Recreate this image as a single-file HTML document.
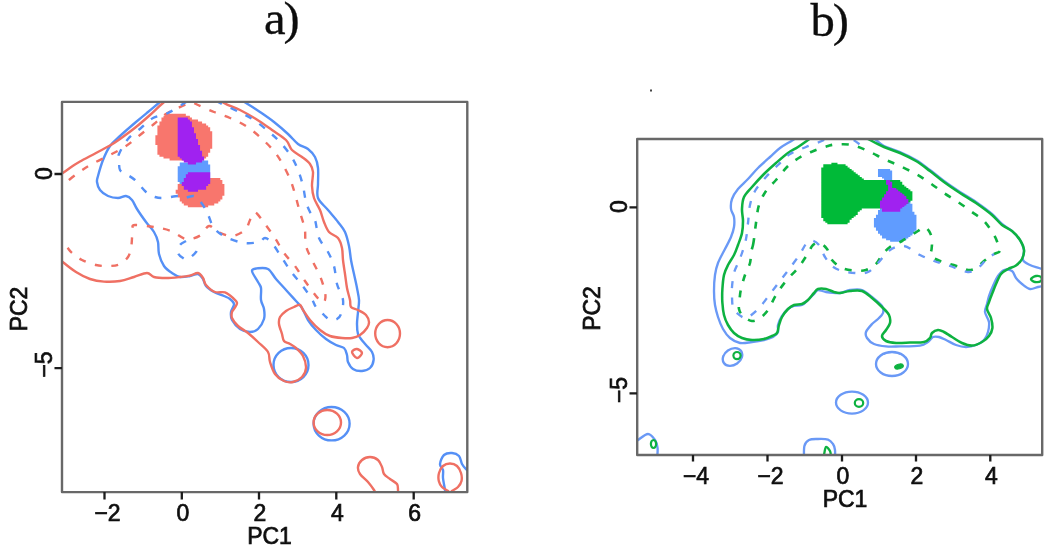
<!DOCTYPE html>
<html lang="en">
<head>
<meta charset="utf-8">
<title>PCA density contours</title>
<style>
html,body{margin:0;padding:0;background:#fff;}
body{width:1050px;height:551px;overflow:hidden;font-family:"Liberation Sans",Arial,sans-serif;}
svg{display:block;}
</style>
</head>
<body>
<svg width="1050" height="551" viewBox="0 0 1050 551">
<defs>
<clipPath id="ca"><rect x="62" y="102" width="406" height="390"/></clipPath>
<clipPath id="cb"><rect x="637" y="139" width="405" height="316"/></clipPath>
<filter id="soft" x="-2%" y="-2%" width="104%" height="104%"><feGaussianBlur stdDeviation="0.75"/></filter>
</defs>
<rect width="1050" height="551" fill="#ffffff"/>
<g filter="url(#soft)">
<g clip-path="url(#ca)" stroke-width="2.4" stroke-linecap="butt" stroke-linejoin="round">
<path d="M165.53,113.70H185.83V115.70H165.53ZM163.50,115.65H189.89V117.65H163.50ZM161.47,117.60H191.92V119.60H161.47ZM161.47,119.55H198.01V121.55H161.47ZM159.44,121.50H202.07V123.50H159.44ZM159.44,123.45H206.13V125.45H159.44ZM157.41,125.40H208.16V127.40H157.41ZM157.41,127.35H210.19V129.35H157.41ZM157.41,129.30H210.19V131.30H157.41ZM157.41,131.25H212.22V133.25H157.41ZM157.41,133.20H212.22V135.20H157.41ZM155.38,135.15H212.22V137.15H155.38ZM155.38,137.10H212.22V139.10H155.38ZM155.38,139.05H212.22V141.05H155.38ZM155.38,141.00H212.22V143.00H155.38ZM155.38,142.95H212.22V144.95H155.38ZM157.41,144.90H212.22V146.90H157.41ZM157.41,146.85H212.22V148.85H157.41ZM157.41,148.80H210.19V150.80H157.41ZM157.41,150.75H210.19V152.75H157.41ZM157.41,152.70H208.16V154.70H157.41ZM159.44,154.65H208.16V156.65H159.44ZM163.50,156.60H206.13V158.60H163.50ZM169.59,158.55H204.10V160.55H169.59Z" fill="#F8766D" stroke="none"/>
<path d="M189.89,178.05H220.34V180.05H189.89ZM181.77,180.00H222.37V182.00H181.77ZM179.74,181.95H222.37V183.95H179.74ZM177.71,183.90H224.40V185.90H177.71ZM177.71,185.85H224.40V187.85H177.71ZM177.71,187.80H224.40V189.80H177.71ZM175.68,189.75H224.40V191.75H175.68ZM175.68,191.70H224.40V193.70H175.68ZM177.71,193.65H224.40V195.65H177.71ZM177.71,195.60H222.37V197.60H177.71ZM179.74,197.55H222.37V199.55H179.74ZM179.74,199.50H220.34V201.50H179.74ZM181.77,201.45H218.31V203.45H181.77ZM183.80,203.40H214.25V205.40H183.80ZM187.86,205.35H208.16V207.35H187.86Z" fill="#F8766D" stroke="none"/>
<path d="M193.95,160.50H208.16V162.50H193.95ZM179.74,162.45H208.16V164.45H179.74ZM179.74,164.40H210.19V166.40H179.74ZM177.71,166.35H210.19V168.35H177.71ZM177.71,168.30H210.19V170.30H177.71ZM177.71,170.25H210.19V172.25H177.71ZM177.71,172.20H210.19V174.20H177.71ZM177.71,174.15H210.19V176.15H177.71ZM177.71,176.10H210.19V178.10H177.71ZM177.71,178.05H210.19V180.05H177.71ZM177.71,180.00H210.19V182.00H177.71ZM179.74,181.95H183.80V183.95H179.74Z" fill="#619CFF" stroke="none"/>
<path d="M177.71,117.60H187.86V119.60H177.71ZM177.71,119.55H189.89V121.55H177.71ZM177.71,121.50H191.92V123.50H177.71ZM177.71,123.45H191.92V125.45H177.71ZM177.71,125.40H191.92V127.40H177.71ZM177.71,127.35H193.95V129.35H177.71ZM177.71,129.30H193.95V131.30H177.71ZM177.71,131.25H193.95V133.25H177.71ZM177.71,133.20H195.98V135.20H177.71ZM177.71,135.15H195.98V137.15H177.71ZM177.71,137.10H195.98V139.10H177.71ZM177.71,139.05H198.01V141.05H177.71ZM177.71,141.00H198.01V143.00H177.71ZM177.71,142.95H198.01V144.95H177.71ZM177.71,144.90H200.04V146.90H177.71ZM177.71,146.85H200.04V148.85H177.71ZM177.71,148.80H200.04V150.80H177.71ZM177.71,150.75H202.07V152.75H177.71ZM177.71,152.70H202.07V154.70H177.71ZM177.71,154.65H202.07V156.65H177.71ZM179.74,156.60H204.10V158.60H179.74ZM181.77,158.55H204.10V160.55H181.77ZM183.80,160.50H202.07V162.50H183.80ZM187.86,162.45H195.98V164.45H187.86Z" fill="#A020F0" stroke="none"/>
<path d="M187.86,172.20H210.19V174.20H187.86ZM185.83,174.15H210.19V176.15H185.83ZM185.83,176.10H210.19V178.10H185.83ZM183.80,178.05H210.19V180.05H183.80ZM183.80,180.00H210.19V182.00H183.80ZM181.77,181.95H210.19V183.95H181.77ZM181.77,183.90H208.16V185.90H181.77ZM183.80,185.85H206.13V187.85H183.80ZM183.80,187.80H206.13V189.80H183.80ZM187.86,189.75H198.01V191.75H187.86Z" fill="#A020F0" stroke="none"/>
<path d="M170.0,94.0 C168.3,95.3 163.7,99.0 160.0,102.0 C156.3,105.0 152.0,108.7 148.0,112.0 C144.0,115.3 140.7,118.0 136.0,122.0 C131.3,126.0 124.3,132.0 120.0,136.0 C115.7,140.0 112.8,142.0 110.0,146.0 C107.2,150.0 105.0,155.0 103.0,160.0 C101.0,165.0 99.0,172.3 98.0,176.0 C97.0,179.7 96.7,179.7 97.0,182.0 C97.3,184.3 98.2,187.7 100.0,190.0 C101.8,192.3 105.0,194.7 108.0,196.0 C111.0,197.3 115.0,198.0 118.0,198.0 C121.0,198.0 123.7,195.7 126.0,196.0 C128.3,196.3 130.2,197.8 132.0,200.0 C133.8,202.2 134.7,205.3 137.0,209.0 C139.3,212.7 143.2,218.2 146.0,222.0 C148.8,225.8 152.0,228.7 154.0,232.0 C156.0,235.3 157.2,238.3 158.0,242.0 C158.8,245.7 158.0,250.0 159.0,254.0 C160.0,258.0 161.8,262.8 164.0,266.0 C166.2,269.2 169.3,271.2 172.0,273.0 C174.7,274.8 177.0,276.5 180.0,277.0 C183.0,277.5 187.0,276.5 190.0,276.0 C193.0,275.5 195.8,273.5 198.0,274.0 C200.2,274.5 201.7,277.0 203.0,279.0 C204.3,281.0 204.2,283.8 206.0,286.0 C207.8,288.2 211.0,290.3 214.0,292.0 C217.0,293.7 221.3,294.8 224.0,296.0 C226.7,297.2 228.3,297.7 230.0,299.0 C231.7,300.3 233.8,301.8 234.0,304.0 C234.2,306.2 231.3,309.3 231.0,312.0 C230.7,314.7 230.5,317.2 232.0,320.0 C233.5,322.8 237.0,327.0 240.0,329.0 C243.0,331.0 247.0,332.0 250.0,332.0 C253.0,332.0 255.7,331.2 258.0,329.0 C260.3,326.8 263.0,322.3 264.0,319.0 C265.0,315.7 264.5,312.2 264.0,309.0 C263.5,305.8 261.5,303.5 261.0,300.0 C260.5,296.5 261.5,291.0 261.0,288.0 C260.5,285.0 259.5,284.8 258.0,282.0 C256.5,279.2 252.2,273.3 252.0,271.0 C251.8,268.7 254.3,268.7 257.0,268.4 C259.7,268.1 264.8,267.2 268.0,269.0 C271.2,270.8 273.0,275.5 276.0,279.0 C279.0,282.5 282.7,286.3 286.0,290.0 C289.3,293.7 293.3,298.0 296.0,301.0 C298.7,304.0 300.0,304.8 302.0,308.0 C304.0,311.2 305.7,316.3 308.0,320.0 C310.3,323.7 313.0,326.8 316.0,330.0 C319.0,333.2 322.7,336.5 326.0,339.0 C329.3,341.5 333.0,343.5 336.0,345.0 C339.0,346.5 342.2,346.3 344.0,348.0 C345.8,349.7 346.3,352.7 347.0,355.0 C347.7,357.3 347.0,359.7 348.0,362.0 C349.0,364.3 350.7,367.5 353.0,369.0 C355.3,370.5 359.2,371.2 362.0,371.0 C364.8,370.8 368.1,369.8 370.0,368.0 C371.9,366.2 373.3,362.7 373.6,360.0 C373.9,357.3 373.3,354.5 372.0,352.0 C370.7,349.5 367.8,347.2 366.0,345.0 C364.2,342.8 362.3,340.8 361.0,339.0 C359.7,337.2 358.7,336.5 358.0,334.0 C357.3,331.5 357.0,327.7 357.0,324.0 C357.0,320.3 357.7,316.0 358.0,312.0 C358.3,308.0 359.2,304.0 359.0,300.0 C358.8,296.0 357.8,292.3 357.0,288.0 C356.2,283.7 355.0,278.7 354.0,274.0 C353.0,269.3 351.8,264.7 351.0,260.0 C350.2,255.3 350.0,250.7 349.0,246.0 C348.0,241.3 346.8,236.0 345.0,232.0 C343.2,228.0 340.8,225.7 338.0,222.0 C335.2,218.3 331.3,214.0 328.0,210.0 C324.7,206.0 319.7,202.3 318.0,198.0 C316.3,193.7 318.0,189.0 318.0,184.0 C318.0,179.0 318.5,172.5 318.0,168.0 C317.5,163.5 316.7,160.2 315.0,157.0 C313.3,153.8 310.8,151.2 308.0,149.0 C305.2,146.8 301.3,146.5 298.0,144.0 C294.7,141.5 292.0,137.7 288.0,134.0 C284.0,130.3 278.7,125.7 274.0,122.0 C269.3,118.3 264.7,115.2 260.0,112.0 C255.3,108.8 250.7,105.8 246.0,103.0 C241.3,100.2 234.3,96.3 232.0,95.0" fill="none" stroke="#5590F6"/>
<ellipse cx="291" cy="365" rx="17.5" ry="17" fill="none" stroke="#5590F6" />
<ellipse cx="331.6" cy="423.7" rx="18" ry="16.7" fill="none" stroke="#5590F6" />
<path d="M446.0,498.0 C445.8,496.7 445.5,493.3 445.0,490.0 C444.5,486.7 443.3,481.3 443.0,478.0 C442.7,474.7 443.5,472.3 443.0,470.0 C442.5,467.7 439.8,466.5 440.0,464.0 C440.2,461.5 442.0,456.8 444.0,455.0 C446.0,453.2 449.5,452.8 452.0,453.0 C454.5,453.2 457.3,454.2 459.0,456.0 C460.7,457.8 460.8,461.8 462.0,464.0 C463.2,466.2 464.3,467.5 466.0,469.0 C467.7,470.5 471.0,472.3 472.0,473.0" fill="none" stroke="#5590F6"/>
<path d="M56.0,177.0 C57.0,176.4 59.3,175.2 62.0,173.5 C64.7,171.8 69.0,168.5 72.0,166.5 C75.0,164.5 76.0,163.8 80.0,161.5 C84.0,159.2 91.0,155.7 96.0,153.0 C101.0,150.3 106.0,147.8 110.0,145.5 C114.0,143.2 115.7,142.1 120.0,139.0 C124.3,135.9 131.0,131.0 136.0,127.0 C141.0,123.0 145.5,119.0 150.0,115.0 C154.5,111.0 158.3,106.8 163.0,103.0 C167.7,99.2 172.8,94.8 178.0,92.0 C183.2,89.2 188.7,86.0 194.0,86.0 C199.3,86.0 205.0,89.2 210.0,92.0 C215.0,94.8 219.0,100.0 224.0,103.0 C229.0,106.0 234.7,107.3 240.0,110.0 C245.3,112.7 250.7,115.7 256.0,119.0 C261.3,122.3 267.0,126.5 272.0,130.0 C277.0,133.5 282.7,136.7 286.0,140.0 C289.3,143.3 289.3,147.2 292.0,150.0 C294.7,152.8 299.0,154.7 302.0,157.0 C305.0,159.3 308.2,161.5 310.0,164.0 C311.8,166.5 312.7,168.3 313.0,172.0 C313.3,175.7 311.8,181.7 312.0,186.0 C312.2,190.3 312.7,194.0 314.0,198.0 C315.3,202.0 318.3,206.0 320.0,210.0 C321.7,214.0 322.5,218.3 324.0,222.0 C325.5,225.7 326.7,229.3 329.0,232.0 C331.3,234.7 335.8,235.3 338.0,238.0 C340.2,240.7 341.2,244.3 342.0,248.0 C342.8,251.7 342.5,255.7 343.0,260.0 C343.5,264.3 344.3,269.3 345.0,274.0 C345.7,278.7 346.2,283.7 347.0,288.0 C347.8,292.3 349.3,296.8 350.0,300.0 C350.7,303.2 349.7,305.3 351.0,307.0 C352.3,308.7 355.5,308.7 358.0,310.0 C360.5,311.3 364.2,313.0 366.0,315.0 C367.8,317.0 368.8,319.8 369.0,322.0 C369.2,324.2 368.5,325.8 367.0,328.0 C365.5,330.2 362.5,333.3 360.0,335.0 C357.5,336.7 355.0,337.5 352.0,338.0 C349.0,338.5 345.7,338.3 342.0,338.0 C338.3,337.7 333.7,337.3 330.0,336.0 C326.3,334.7 323.3,332.7 320.0,330.0 C316.7,327.3 312.8,323.3 310.0,320.0 C307.2,316.7 304.7,312.5 303.0,310.0 C301.3,307.5 301.5,305.5 300.0,305.0 C298.5,304.5 296.3,306.0 294.0,307.0 C291.7,308.0 288.3,309.3 286.0,311.0 C283.7,312.7 281.2,314.8 280.0,317.0 C278.8,319.2 278.7,321.2 279.0,324.0 C279.3,326.8 281.2,331.2 282.0,334.0 C282.8,336.8 282.7,339.3 284.0,341.0 C285.3,342.7 288.0,342.8 290.0,344.0 C292.0,345.2 293.8,346.0 296.0,348.0 C298.2,350.0 301.3,352.7 303.0,356.0 C304.7,359.3 306.2,364.5 306.0,368.0 C305.8,371.5 304.2,374.7 302.0,377.0 C299.8,379.3 296.0,381.3 293.0,382.0 C290.0,382.7 287.0,382.3 284.0,381.0 C281.0,379.7 277.3,377.2 275.0,374.0 C272.7,370.8 271.2,365.7 270.0,362.0 C268.8,358.3 270.0,355.3 268.0,352.0 C266.0,348.7 261.3,345.2 258.0,342.0 C254.7,338.8 251.3,335.7 248.0,333.0 C244.7,330.3 240.7,328.5 238.0,326.0 C235.3,323.5 233.0,320.3 232.0,318.0 C231.0,315.7 231.7,313.5 232.0,312.0 C232.3,310.5 233.2,310.5 234.0,309.0 C234.8,307.5 237.2,304.8 237.0,303.0 C236.8,301.2 235.0,299.8 233.0,298.0 C231.0,296.2 228.0,293.4 225.0,292.4 C222.0,291.4 218.2,293.2 215.0,292.0 C211.8,290.8 208.0,287.3 206.0,285.0 C204.0,282.7 204.3,280.0 203.0,278.0 C201.7,276.0 200.2,273.4 198.0,273.0 C195.8,272.6 193.0,274.9 190.0,275.6 C187.0,276.3 184.0,276.6 180.0,277.0 C176.0,277.4 170.3,278.0 166.0,278.0 C161.7,278.0 157.2,277.8 154.0,277.0 C150.8,276.2 150.3,273.0 147.0,273.0 C143.7,273.0 138.5,275.7 134.0,277.0 C129.5,278.3 125.0,280.2 120.0,281.0 C115.0,281.8 109.0,281.9 104.0,281.6 C99.0,281.3 94.7,280.6 90.0,279.0 C85.3,277.4 80.3,274.7 76.0,272.0 C71.7,269.3 67.3,265.7 64.0,263.0 C60.7,260.3 57.3,257.2 56.0,256.0" fill="none" stroke="#EF6F63"/>
<ellipse cx="387.6" cy="333.6" rx="12.4" ry="13.6" fill="none" stroke="#EF6F63" />
<path d="M352.0,352.0 C352.0,350.5 355.3,348.8 357.0,349.0 C358.7,349.2 362.0,351.5 362.0,353.0 C362.0,354.5 358.7,358.2 357.0,358.0 C355.3,357.8 352.0,353.5 352.0,352.0Z" fill="none" stroke="#EF6F63"/>
<ellipse cx="327.3" cy="422.5" rx="13.7" ry="12.5" fill="none" stroke="#EF6F63" />
<path d="M378.0,498.0 C377.3,496.7 375.7,492.7 374.0,490.0 C372.3,487.3 370.3,484.7 368.0,482.0 C365.7,479.3 361.7,476.5 360.0,474.0 C358.3,471.5 357.7,469.3 358.0,467.0 C358.3,464.7 360.0,461.7 362.0,460.0 C364.0,458.3 367.3,457.0 370.0,457.0 C372.7,457.0 376.0,458.3 378.0,460.0 C380.0,461.7 381.0,464.7 382.0,467.0 C383.0,469.3 382.7,472.0 384.0,474.0 C385.3,476.0 387.8,477.3 390.0,479.0 C392.2,480.7 395.7,482.2 397.0,484.0 C398.3,485.8 397.8,487.7 398.0,490.0 C398.2,492.3 398.0,496.7 398.0,498.0" fill="none" stroke="#EF6F63"/>
<path d="M450.0,463.5 C452.3,463.5 455.2,464.4 457.0,466.0 C458.8,467.6 460.2,470.5 461.0,473.0 C461.8,475.5 462.0,478.7 461.5,481.0 C461.0,483.3 459.6,485.3 458.0,487.0 C456.4,488.7 453.3,489.8 452.0,491.0 C450.7,492.2 450.7,494.0 450.0,494.0 C449.3,494.0 449.3,492.2 448.0,491.0 C446.7,489.8 443.5,488.7 442.0,487.0 C440.5,485.3 439.3,483.3 438.8,481.0 C438.3,478.7 438.3,475.5 439.0,473.0 C439.7,470.5 441.2,467.6 443.0,466.0 C444.8,464.4 447.7,463.5 450.0,463.5Z" fill="none" stroke="#EF6F63"/>
<path d="M56.0,190.0 C57.3,189.0 60.3,186.8 64.0,184.0 C67.7,181.2 73.3,176.3 78.0,173.0 C82.7,169.7 86.7,167.0 92.0,164.0 C97.3,161.0 104.3,158.0 110.0,155.0 C115.7,152.0 121.0,149.3 126.0,146.0 C131.0,142.7 135.3,138.7 140.0,135.0 C144.7,131.3 149.7,127.5 154.0,124.0 C158.3,120.5 162.0,116.7 166.0,114.0 C170.0,111.3 174.3,109.8 178.0,108.0 C181.7,106.2 185.5,104.4 188.0,103.5 C190.5,102.6 191.3,102.5 193.0,102.8 C194.7,103.0 194.5,103.5 198.0,105.0 C201.5,106.5 208.7,109.8 214.0,112.0 C219.3,114.2 224.7,115.7 230.0,118.0 C235.3,120.3 241.0,122.8 246.0,126.0 C251.0,129.2 255.5,133.0 260.0,137.0 C264.5,141.0 269.3,145.7 273.0,150.0 C276.7,154.3 279.2,158.2 282.0,163.0 C284.8,167.8 287.8,173.8 290.0,179.0 C292.2,184.2 293.5,189.0 295.0,194.0 C296.5,199.0 297.7,204.3 299.0,209.0 C300.3,213.7 302.0,218.5 303.0,222.0 C304.0,225.5 304.5,226.0 305.0,230.0 C305.5,234.0 304.8,241.0 306.0,246.0 C307.2,251.0 309.7,255.0 312.0,260.0 C314.3,265.0 317.8,270.7 320.0,276.0 C322.2,281.3 324.2,288.0 325.0,292.0 C325.8,296.0 325.5,298.2 325.0,300.0 C324.5,301.8 323.0,303.2 322.0,303.0 C321.0,302.8 320.0,300.2 319.0,299.0 C318.0,297.8 318.3,299.0 316.0,296.0 C313.7,293.0 308.5,286.0 305.0,281.0 C301.5,276.0 298.5,270.7 295.0,266.0 C291.5,261.3 287.3,257.7 284.0,253.0 C280.7,248.3 278.2,242.8 275.0,238.0 C271.8,233.2 268.0,228.1 265.0,224.0 C262.0,219.9 258.8,215.4 257.0,213.6 C255.2,211.8 255.2,211.9 254.0,213.0 C252.8,214.1 251.5,217.2 250.0,220.0 C248.5,222.8 248.0,227.3 245.0,230.0 C242.0,232.7 236.5,235.7 232.0,236.0 C227.5,236.3 221.8,233.7 218.0,232.0 C214.2,230.3 212.0,225.4 209.0,226.0 C206.0,226.6 203.8,233.4 200.0,235.6 C196.2,237.8 190.8,239.8 186.0,239.0 C181.2,238.2 176.3,233.0 171.0,231.0 C165.7,229.0 160.0,228.0 154.0,227.0 C148.0,226.0 138.6,224.8 135.0,225.0 C131.4,225.2 132.9,225.8 132.4,228.0 C131.9,230.2 132.2,234.7 132.0,238.0 C131.8,241.3 131.7,244.8 131.0,248.0 C130.3,251.2 129.8,254.3 128.0,257.0 C126.2,259.7 123.0,262.5 120.0,264.0 C117.0,265.5 114.0,265.8 110.0,266.0 C106.0,266.2 100.7,266.0 96.0,265.0 C91.3,264.0 86.0,262.0 82.0,260.0 C78.0,258.0 74.5,255.2 72.0,253.0 C69.5,250.8 69.3,249.8 67.0,247.0 C64.7,244.2 59.5,237.8 58.0,236.0" fill="none" stroke="#EF6F63" stroke-dasharray="7 9.5"/>
<path d="M200.0,92.0 C197.7,93.7 191.3,98.5 186.0,102.0 C180.7,105.5 173.5,110.3 168.0,113.0 C162.5,115.7 157.5,115.5 153.0,118.0 C148.5,120.5 145.2,124.5 141.0,128.0 C136.8,131.5 131.7,134.7 128.0,139.0 C124.3,143.3 120.5,150.5 119.0,154.0 C117.5,157.5 118.8,157.3 119.0,160.0 C119.2,162.7 118.8,167.7 120.0,170.0 C121.2,172.3 123.5,172.3 126.0,174.0 C128.5,175.7 131.7,177.0 135.0,180.0 C138.3,183.0 142.7,189.2 146.0,192.0 C149.3,194.8 152.0,196.0 155.0,197.0 C158.0,198.0 160.2,198.2 164.0,198.0 C167.8,197.8 174.7,196.0 178.0,196.0 C181.3,196.0 181.3,198.0 184.0,198.0 C186.7,198.0 191.3,195.5 194.0,196.0 C196.7,196.5 197.8,198.3 200.0,201.0 C202.2,203.7 204.7,207.5 207.0,212.0 C209.3,216.5 210.8,223.8 214.0,228.0 C217.2,232.2 221.0,234.5 226.0,237.0 C231.0,239.5 238.5,242.2 244.0,243.0 C249.5,243.8 255.5,242.8 259.0,242.0 C262.5,241.2 262.8,237.8 265.0,238.0 C267.2,238.2 269.2,239.7 272.0,243.0 C274.8,246.3 278.7,253.1 282.0,258.0 C285.3,262.9 288.2,267.8 291.6,272.4 C295.0,277.0 299.0,281.1 302.4,285.6 C305.8,290.1 309.7,295.8 312.0,299.4 C314.3,303.0 314.0,304.4 316.0,307.0 C318.0,309.6 321.7,312.8 324.0,315.0 C326.3,317.2 327.8,319.3 330.0,320.0 C332.2,320.7 335.2,320.0 337.0,319.0 C338.8,318.0 340.0,317.2 341.0,314.0 C342.0,310.8 343.7,305.0 343.0,300.0 C342.3,295.0 338.5,289.7 337.0,284.0 C335.5,278.3 335.5,271.3 334.0,266.0 C332.5,260.7 330.5,256.7 328.0,252.0 C325.5,247.3 321.2,243.3 319.0,238.0 C316.8,232.7 316.5,224.3 315.0,220.0 C313.5,215.7 311.5,215.0 310.0,212.0 C308.5,209.0 307.2,206.3 306.0,202.0 C304.8,197.7 304.3,191.3 303.0,186.0 C301.7,180.7 300.0,175.0 298.0,170.0 C296.0,165.0 294.0,160.7 291.0,156.0 C288.0,151.3 283.8,146.2 280.0,142.0 C276.2,137.8 272.3,134.7 268.0,131.0 C263.7,127.3 258.8,123.2 254.0,120.0 C249.2,116.8 244.7,114.8 239.0,112.0 C233.3,109.2 225.7,105.8 220.0,103.0 C214.3,100.2 207.5,96.3 205.0,95.0" fill="none" stroke="#5590F6" stroke-dasharray="7 9.5"/>
<path d="M186.0,241.0 C185.0,241.7 181.3,243.0 180.0,245.0 C178.7,247.0 177.5,250.8 178.0,253.0 C178.5,255.2 181.3,257.0 183.0,258.0 C184.7,259.0 185.8,260.0 188.0,259.0 C190.2,258.0 194.3,254.3 196.0,252.0 C197.7,249.7 197.7,246.2 198.0,245.0" fill="none" stroke="#5590F6" stroke-dasharray="7 9.5"/>
</g>
<g clip-path="url(#cb)" stroke-width="2.35" stroke-linecap="butt" stroke-linejoin="round">
<path d="M877.98,169.02H890.12V170.65H877.98ZM877.98,170.60H892.15V172.23H877.98ZM877.98,172.18H892.15V173.81H877.98ZM877.98,173.76H892.15V175.39H877.98ZM877.98,175.34H892.15V176.97H877.98ZM882.02,176.92H892.15V178.55H882.02ZM884.05,178.50H892.15V180.13H884.05ZM884.05,180.08H892.15V181.71H884.05Z" fill="#619CFF" stroke="none"/>
<path d="M906.33,200.62H910.38V202.25H906.33ZM904.30,202.20H910.38V203.83H904.30ZM900.25,203.78H912.40V205.41H900.25ZM894.17,205.36H912.40V206.99H894.17ZM886.08,206.94H912.40V208.57H886.08ZM880.00,208.52H912.40V210.15H880.00ZM877.98,210.10H912.40V211.73H877.98ZM877.98,211.68H914.42V213.31H877.98ZM877.98,213.26H914.42V214.89H877.98ZM875.95,214.84H916.45V216.47H875.95ZM875.95,216.42H916.45V218.05H875.95ZM873.92,218.00H916.45V219.63H873.92ZM873.92,219.58H916.45V221.21H873.92ZM873.92,221.16H916.45V222.79H873.92ZM873.92,222.74H916.45V224.37H873.92ZM873.92,224.32H916.45V225.95H873.92ZM873.92,225.90H916.45V227.53H873.92ZM875.95,227.48H916.45V229.11H875.95ZM875.95,229.06H916.45V230.69H875.95ZM877.98,230.64H914.42V232.27H877.98ZM877.98,232.22H914.42V233.85H877.98ZM880.00,233.80H912.40V235.43H880.00ZM882.02,235.38H910.38V237.01H882.02ZM882.02,236.96H908.35V238.59H882.02ZM886.08,238.54H906.33V240.17H886.08ZM890.12,240.12H902.27V241.75H890.12Z" fill="#619CFF" stroke="none"/>
<path d="M831.40,162.70H837.48V164.33H831.40ZM823.30,164.28H845.58V165.91H823.30ZM823.30,165.86H847.60V167.49H823.30ZM821.27,167.44H849.62V169.07H821.27ZM821.27,169.02H851.65V170.65H821.27ZM821.27,170.60H853.67V172.23H821.27ZM821.27,172.18H855.70V173.81H821.27ZM821.27,173.76H857.73V175.39H821.27ZM821.27,175.34H859.75V176.97H821.27ZM821.27,176.92H861.77V178.55H821.27ZM821.27,178.50H863.80V180.13H821.27ZM821.27,180.08H900.25V181.71H821.27ZM821.27,181.66H902.27V183.29H821.27ZM821.27,183.24H902.27V184.87H821.27ZM821.27,184.82H904.30V186.45H821.27ZM821.27,186.40H906.33V188.03H821.27ZM821.27,187.98H908.35V189.61H821.27ZM821.27,189.56H910.38V191.19H821.27ZM821.27,191.14H912.40V192.77H821.27ZM821.27,192.72H912.40V194.35H821.27ZM821.27,194.30H912.40V195.93H821.27ZM821.27,195.88H912.40V197.51H821.27ZM821.27,197.46H912.40V199.09H821.27ZM821.27,199.04H912.40V200.67H821.27ZM821.27,200.62H910.38V202.25H821.27ZM821.27,202.20H908.35V203.83H821.27ZM821.27,203.78H904.30V205.41H821.27ZM821.27,205.36H892.15V206.99H821.27ZM821.27,206.94H882.02V208.57H821.27ZM821.27,208.52H861.77V210.15H821.27ZM821.27,210.10H859.75V211.73H821.27ZM821.27,211.68H857.73V213.31H821.27ZM821.27,213.26H857.73V214.89H821.27ZM821.27,214.84H855.70V216.47H821.27ZM821.27,216.42H853.67V218.05H821.27ZM823.30,218.00H851.65V219.63H823.30ZM823.30,219.58H849.62V221.21H823.30ZM825.33,221.16H849.62V222.79H825.33ZM827.35,222.74H847.60V224.37H827.35Z" fill="#00BA38" stroke="none"/>
<path d="M886.08,180.08H890.12V181.71H886.08ZM886.08,181.66H892.15V183.29H886.08ZM886.08,183.24H892.15V184.87H886.08ZM888.10,184.82H892.15V186.45H888.10ZM888.10,186.40H892.15V188.03H888.10ZM888.10,187.98H896.20V189.61H888.10ZM888.10,189.56H898.22V191.19H888.10ZM886.08,191.14H900.25V192.77H886.08ZM886.08,192.72H902.27V194.35H886.08ZM884.05,194.30H904.30V195.93H884.05ZM884.05,195.88H906.33V197.51H884.05ZM882.02,197.46H906.33V199.09H882.02ZM882.02,199.04H908.35V200.67H882.02ZM880.00,200.62H908.35V202.25H880.00ZM880.00,202.20H908.35V203.83H880.00ZM880.00,203.78H906.33V205.41H880.00ZM880.00,205.36H904.30V206.99H880.00ZM880.00,206.94H902.27V208.57H880.00ZM882.02,208.52H900.25V210.15H882.02ZM882.02,210.10H900.25V211.73H882.02Z" fill="#A020F0" stroke="none"/>
<path d="M808.0,130.0 C805.5,131.7 797.7,137.0 793.0,140.0 C788.3,143.0 783.8,145.2 780.0,148.0 C776.2,150.8 773.7,153.7 770.0,157.0 C766.3,160.3 761.7,164.3 758.0,168.0 C754.3,171.7 751.3,175.5 748.0,179.0 C744.7,182.5 740.7,185.7 738.0,189.0 C735.3,192.3 733.2,195.7 732.0,199.0 C730.8,202.3 730.7,206.0 731.0,209.0 C731.3,212.0 733.5,214.0 734.0,217.0 C734.5,220.0 734.5,223.7 734.0,227.0 C733.5,230.3 732.5,233.3 731.0,237.0 C729.5,240.7 727.2,244.7 725.0,249.0 C722.8,253.3 719.7,258.7 718.0,263.0 C716.3,267.3 715.7,270.3 715.0,275.0 C714.3,279.7 714.0,286.0 714.0,291.0 C714.0,296.0 714.3,300.7 715.0,305.0 C715.7,309.3 716.7,313.0 718.0,317.0 C719.3,321.0 721.0,325.5 723.0,329.0 C725.0,332.5 727.2,335.7 730.0,338.0 C732.8,340.3 736.3,342.3 740.0,343.0 C743.7,343.7 748.0,342.5 752.0,342.0 C756.0,341.5 760.5,340.8 764.0,340.0 C767.5,339.2 770.7,338.3 773.0,337.0 C775.3,335.7 777.2,334.0 778.0,332.0 C778.8,330.0 777.3,327.7 778.0,325.0 C778.7,322.3 780.3,318.7 782.0,316.0 C783.7,313.3 786.0,310.7 788.0,309.0 C790.0,307.3 791.7,306.7 794.0,306.0 C796.3,305.3 799.7,306.0 802.0,305.0 C804.3,304.0 806.0,301.8 808.0,300.0 C810.0,298.2 812.3,295.7 814.0,294.0 C815.7,292.3 816.0,290.3 818.0,290.0 C820.0,289.7 822.3,291.5 826.0,292.0 C829.7,292.5 836.0,293.3 840.0,293.0 C844.0,292.7 846.3,290.5 850.0,290.0 C853.7,289.5 858.3,288.8 862.0,290.0 C865.7,291.2 868.7,294.3 872.0,297.0 C875.3,299.7 880.2,303.3 882.0,306.0 C883.8,308.7 883.7,310.8 883.0,313.0 C882.3,315.2 879.8,317.2 878.0,319.0 C876.2,320.8 874.0,321.8 872.0,324.0 C870.0,326.2 866.8,329.7 866.0,332.0 C865.2,334.3 865.7,336.0 867.0,338.0 C868.3,340.0 870.8,342.6 874.0,344.0 C877.2,345.4 881.7,346.0 886.0,346.4 C890.3,346.8 894.3,346.5 900.0,346.4 C905.7,346.3 915.3,346.3 920.0,345.6 C924.7,344.9 925.8,343.4 928.0,342.0 C930.2,340.6 931.2,337.8 933.0,337.0 C934.8,336.2 936.8,336.5 939.0,337.0 C941.2,337.5 943.2,338.7 946.0,340.0 C948.8,341.3 952.7,343.8 956.0,345.0 C959.3,346.2 962.7,347.0 966.0,347.0 C969.3,347.0 973.0,346.2 976.0,345.0 C979.0,343.8 982.0,342.2 984.0,340.0 C986.0,337.8 987.2,335.0 988.0,332.0 C988.8,329.0 989.5,325.3 989.0,322.0 C988.5,318.7 985.3,315.0 985.0,312.0 C984.7,309.0 986.3,306.7 987.0,304.0 C987.7,301.3 988.0,299.0 989.0,296.0 C990.0,293.0 991.5,289.3 993.0,286.0 C994.5,282.7 996.2,278.7 998.0,276.0 C999.8,273.3 1001.7,270.8 1004.0,270.0 C1006.3,269.2 1010.0,269.7 1012.0,271.0 C1014.0,272.3 1014.3,275.8 1016.0,278.0 C1017.7,280.2 1019.7,282.2 1022.0,284.0 C1024.3,285.8 1027.3,288.5 1030.0,289.0 C1032.7,289.5 1035.0,287.7 1038.0,287.0 C1041.0,286.3 1046.3,285.3 1048.0,285.0" fill="none" stroke="#6A99F6"/>
<path d="M1048.0,271.0 C1046.5,270.5 1042.0,269.0 1039.0,268.0 C1036.0,267.0 1032.7,266.3 1030.0,265.0 C1027.3,263.7 1024.0,262.5 1023.0,260.0 C1022.0,257.5 1024.5,253.3 1024.0,250.0 C1023.5,246.7 1022.0,243.2 1020.0,240.0 C1018.0,236.8 1015.0,233.7 1012.0,231.0 C1009.0,228.3 1005.3,226.8 1002.0,224.0 C998.7,221.2 996.3,217.7 992.0,214.0 C987.7,210.3 981.3,205.7 976.0,202.0 C970.7,198.3 965.3,195.5 960.0,192.0 C954.7,188.5 949.0,184.7 944.0,181.0 C939.0,177.3 934.7,173.5 930.0,170.0 C925.3,166.5 921.0,163.0 916.0,160.0 C911.0,157.0 905.3,154.3 900.0,152.0 C894.7,149.7 888.0,148.0 884.0,146.0 C880.0,144.0 879.7,142.7 876.0,140.0 C872.3,137.3 864.3,131.7 862.0,130.0" fill="none" stroke="#6A99F6"/>
<ellipse cx="732.5" cy="357" rx="10.5" ry="8" fill="none" stroke="#6A99F6" transform="rotate(-35 732.5 357)"/>
<ellipse cx="892" cy="364" rx="16" ry="12" fill="none" stroke="#6A99F6" />
<ellipse cx="852" cy="402.6" rx="16" ry="11" fill="none" stroke="#6A99F6" />
<path d="M636.0,442.0 C636.3,441.7 636.0,441.3 638.0,440.0 C640.0,438.7 645.2,434.0 648.0,434.0 C650.8,434.0 653.4,437.7 655.0,440.0 C656.6,442.3 657.3,444.7 657.6,448.0 C657.9,451.3 657.1,458.0 657.0,460.0" fill="none" stroke="#6A99F6"/>
<path d="M804.0,460.0 C804.1,457.7 803.6,449.3 804.4,446.0 C805.2,442.7 806.7,441.2 809.0,440.0 C811.3,438.8 814.8,439.1 818.0,439.0 C821.2,438.9 825.5,438.8 828.0,439.6 C830.5,440.4 831.8,442.3 833.0,444.0 C834.2,445.7 834.7,447.3 835.0,450.0 C835.3,452.7 835.0,458.3 835.0,460.0" fill="none" stroke="#6A99F6"/>
<path d="M822.0,130.0 C819.7,131.7 812.0,137.2 808.0,140.0 C804.0,142.8 801.3,144.8 798.0,147.0 C794.7,149.2 791.7,150.3 788.0,153.0 C784.3,155.7 780.0,159.5 776.0,163.0 C772.0,166.5 768.0,170.0 764.0,174.0 C760.0,178.0 755.3,183.2 752.0,187.0 C748.7,190.8 745.7,193.3 744.0,197.0 C742.3,200.7 742.2,205.0 742.0,209.0 C741.8,213.0 743.0,217.0 743.0,221.0 C743.0,225.0 742.8,229.0 742.0,233.0 C741.2,237.0 739.3,241.3 738.0,245.0 C736.7,248.7 735.7,251.7 734.0,255.0 C732.3,258.3 729.7,261.7 728.0,265.0 C726.3,268.3 724.9,271.0 724.0,275.0 C723.1,279.0 722.7,284.3 722.4,289.0 C722.1,293.7 722.1,298.7 722.4,303.0 C722.7,307.3 723.1,311.3 724.0,315.0 C724.9,318.7 726.3,322.0 728.0,325.0 C729.7,328.0 731.7,330.8 734.0,333.0 C736.3,335.2 739.0,336.8 742.0,338.0 C745.0,339.2 748.3,339.8 752.0,340.0 C755.7,340.2 760.7,339.7 764.0,339.0 C767.3,338.3 769.8,337.0 772.0,336.0 C774.2,335.0 775.8,334.8 777.0,333.0 C778.2,331.2 778.2,327.7 779.0,325.0 C779.8,322.3 780.5,319.7 782.0,317.0 C783.5,314.3 786.0,311.0 788.0,309.0 C790.0,307.0 791.7,305.8 794.0,305.0 C796.3,304.2 799.7,304.8 802.0,304.0 C804.3,303.2 806.0,301.8 808.0,300.0 C810.0,298.2 812.3,294.8 814.0,293.0 C815.7,291.2 816.0,289.7 818.0,289.0 C820.0,288.3 823.3,288.5 826.0,289.0 C828.7,289.5 831.7,291.3 834.0,292.0 C836.3,292.7 837.3,293.2 840.0,293.0 C842.7,292.8 846.3,291.3 850.0,291.0 C853.7,290.7 858.3,289.8 862.0,291.0 C865.7,292.2 868.7,295.3 872.0,298.0 C875.3,300.7 879.2,304.2 882.0,307.0 C884.8,309.8 887.7,312.3 889.0,315.0 C890.3,317.7 890.5,320.5 890.0,323.0 C889.5,325.5 887.3,327.8 886.0,330.0 C884.7,332.2 882.0,334.2 882.0,336.0 C882.0,337.8 883.7,339.8 886.0,341.0 C888.3,342.2 892.0,342.7 896.0,343.0 C900.0,343.3 905.3,342.8 910.0,342.6 C914.7,342.4 920.7,342.8 924.0,342.0 C927.3,341.2 928.7,339.5 930.0,338.0 C931.3,336.5 930.7,334.3 932.0,333.0 C933.3,331.7 936.0,330.2 938.0,330.0 C940.0,329.8 941.7,330.8 944.0,332.0 C946.3,333.2 949.0,335.2 952.0,337.0 C955.0,338.8 958.7,341.6 962.0,343.0 C965.3,344.4 968.7,345.8 972.0,345.6 C975.3,345.4 979.2,343.6 982.0,342.0 C984.8,340.4 987.3,338.3 989.0,336.0 C990.7,333.7 992.1,331.0 992.4,328.0 C992.7,325.0 991.9,321.2 991.0,318.0 C990.1,314.8 987.3,311.7 987.0,309.0 C986.7,306.3 988.2,304.5 989.0,302.0 C989.8,299.5 990.8,297.0 992.0,294.0 C993.2,291.0 994.5,287.3 996.0,284.0 C997.5,280.7 999.0,276.5 1001.0,274.0 C1003.0,271.5 1005.5,270.4 1008.0,269.0 C1010.5,267.6 1013.7,267.2 1016.0,265.5 C1018.3,263.8 1020.7,261.6 1022.0,259.0 C1023.3,256.4 1024.3,253.2 1024.0,250.0 C1023.7,246.8 1022.0,243.2 1020.0,240.0 C1018.0,236.8 1015.0,233.5 1012.0,231.0 C1009.0,228.5 1005.3,227.7 1002.0,225.0 C998.7,222.3 996.3,218.7 992.0,215.0 C987.7,211.3 981.3,206.7 976.0,203.0 C970.7,199.3 965.3,196.5 960.0,193.0 C954.7,189.5 949.0,185.7 944.0,182.0 C939.0,178.3 934.7,174.5 930.0,171.0 C925.3,167.5 921.0,164.0 916.0,161.0 C911.0,158.0 905.3,155.3 900.0,153.0 C894.7,150.7 889.0,149.2 884.0,147.0 C879.0,144.8 874.7,142.7 870.0,140.0 C865.3,137.3 858.3,132.5 856.0,131.0" fill="none" stroke="#0FB241" stroke-width="2.55"/>
<ellipse cx="737" cy="355.6" rx="3.6" ry="3.6" fill="none" stroke="#0FB241" stroke-width="2.2"/>
<ellipse cx="859" cy="403" rx="4.2" ry="3.8" fill="none" stroke="#0FB241" stroke-width="2.2"/>
<ellipse cx="899" cy="366.5" rx="4.5" ry="2.4" fill="#0FB241" stroke="#0FB241" stroke-width="1" transform="rotate(-15 899 366.5)"/>
<ellipse cx="653.5" cy="444" rx="2.6" ry="4" fill="none" stroke="#0FB241" stroke-width="2.2"/>
<path d="M824.0,455.0 C824.3,453.7 825.0,447.7 826.0,447.0 C827.0,446.3 829.2,449.5 830.0,451.0 C830.8,452.5 830.8,455.2 831.0,456.0" fill="none" stroke="#0FB241"/>
<path d="M1031.0,279.0 C1031.2,278.0 1034.3,276.3 1036.0,276.0 C1037.7,275.7 1040.2,276.2 1041.0,277.0 C1041.8,277.8 1042.0,280.2 1041.0,281.0 C1040.0,281.8 1036.7,282.3 1035.0,282.0 C1033.3,281.7 1030.8,280.0 1031.0,279.0Z" fill="none" stroke="#0FB241"/>
<path d="M753.0,245.0 C753.5,242.7 753.5,242.7 754.0,239.0 C754.5,235.3 755.2,228.7 756.0,223.0 C756.8,217.3 757.3,210.3 759.0,205.0 C760.7,199.7 763.2,195.2 766.0,191.0 C768.8,186.8 772.3,184.2 776.0,180.0 C779.7,175.8 783.7,170.0 788.0,166.0 C792.3,162.0 797.3,158.7 802.0,156.0 C806.7,153.3 811.7,151.7 816.0,150.0 C820.3,148.3 824.7,146.9 828.0,146.0 C831.3,145.1 832.0,144.7 836.0,144.5 C840.0,144.3 846.7,143.9 852.0,145.0 C857.3,146.1 862.7,148.7 868.0,151.0 C873.3,153.3 878.7,156.5 884.0,159.0 C889.3,161.5 894.7,163.5 900.0,166.0 C905.3,168.5 911.0,171.2 916.0,174.0 C921.0,176.8 925.3,179.8 930.0,183.0 C934.7,186.2 939.3,189.8 944.0,193.0 C948.7,196.2 953.3,198.8 958.0,202.0 C962.7,205.2 967.7,208.8 972.0,212.0 C976.3,215.2 980.3,217.2 984.0,221.0 C987.7,224.8 991.7,231.2 994.0,235.0 C996.3,238.8 997.0,241.3 998.0,244.0 C999.0,246.7 1001.0,249.2 1000.0,251.0 C999.0,252.8 994.7,253.3 992.0,255.0 C989.3,256.7 986.7,258.8 984.0,261.0 C981.3,263.2 978.7,266.5 976.0,268.0 C973.3,269.5 970.7,270.2 968.0,270.0 C965.3,269.8 963.0,268.0 960.0,267.0 C957.0,266.0 953.3,265.0 950.0,264.0 C946.7,263.0 943.2,262.3 940.0,261.0 C936.8,259.7 932.4,258.0 931.0,256.0 C929.6,254.0 931.4,251.8 931.6,249.0 C931.8,246.2 932.4,242.0 932.0,239.0 C931.6,236.0 930.3,233.0 929.0,231.0 C927.7,229.0 925.8,227.0 924.0,227.0 C922.2,227.0 921.7,228.7 918.0,231.0 C914.3,233.3 906.7,238.3 902.0,241.0 C897.3,243.7 893.3,244.7 890.0,247.0 C886.7,249.3 884.3,252.2 882.0,255.0 C879.7,257.8 878.7,261.5 876.0,264.0 C873.3,266.5 869.7,268.9 866.0,270.0 C862.3,271.1 858.0,270.9 854.0,270.6 C850.0,270.3 845.7,269.8 842.0,268.0 C838.3,266.2 834.5,263.2 832.0,260.0 C829.5,256.8 829.0,251.8 827.0,249.0 C825.0,246.2 822.3,243.7 820.0,243.0 C817.7,242.3 815.2,243.0 813.0,245.0 C810.8,247.0 809.5,251.2 807.0,255.0 C804.5,258.8 801.5,263.7 798.0,268.0 C794.5,272.3 789.7,276.5 786.0,281.0 C782.3,285.5 779.0,290.2 776.0,295.0 C773.0,299.8 770.7,306.2 768.0,310.0 C765.3,313.8 762.7,316.2 760.0,318.0 C757.3,319.8 754.8,321.3 752.0,321.0 C749.2,320.7 745.2,318.0 743.0,316.0 C740.8,314.0 739.6,311.8 739.0,309.0 C738.4,306.2 739.3,302.3 739.6,299.0 C739.9,295.7 740.1,293.0 741.0,289.0 C741.9,285.0 743.5,279.3 745.0,275.0 C746.5,270.7 749.0,266.7 750.0,263.0 C751.0,259.3 750.5,256.0 751.0,253.0 C751.5,250.0 752.5,247.3 753.0,245.0Z" fill="none" stroke="#0FB241" stroke-dasharray="7 9.5" stroke-width="2.6"/>
<path d="M838.0,131.0 C835.7,132.5 829.3,137.3 824.0,140.0 C818.7,142.7 811.7,144.7 806.0,147.0 C800.3,149.3 794.7,151.0 790.0,154.0 C785.3,157.0 782.0,161.2 778.0,165.0 C774.0,168.8 769.8,172.7 766.0,177.0 C762.2,181.3 757.7,186.3 755.0,191.0 C752.3,195.7 751.2,199.7 750.0,205.0 C748.8,210.3 748.7,217.3 748.0,223.0 C747.3,228.7 747.0,234.0 746.0,239.0 C745.0,244.0 743.3,249.0 742.0,253.0 C740.7,257.0 739.3,259.7 738.0,263.0 C736.7,266.3 735.0,269.0 734.0,273.0 C733.0,277.0 732.3,283.0 732.0,287.0 C731.7,291.0 731.8,293.7 732.0,297.0 C732.2,300.3 732.0,304.2 733.0,307.0 C734.0,309.8 736.0,312.2 738.0,314.0 C740.0,315.8 743.0,317.7 745.0,318.0 C747.0,318.3 747.5,317.8 750.0,316.0 C752.5,314.2 756.7,310.7 760.0,307.0 C763.3,303.3 766.7,298.3 770.0,294.0 C773.3,289.7 776.7,285.3 780.0,281.0 C783.3,276.7 786.7,272.5 790.0,268.0 C793.3,263.5 797.3,258.0 800.0,254.0 C802.7,250.0 804.0,246.2 806.0,244.0 C808.0,241.8 809.8,240.4 812.0,240.6 C814.2,240.8 816.8,242.3 819.0,245.0 C821.2,247.7 822.8,253.5 825.0,257.0 C827.2,260.5 829.2,263.7 832.0,266.0 C834.8,268.3 838.0,269.8 842.0,271.0 C846.0,272.2 851.7,272.8 856.0,273.0 C860.3,273.2 864.3,273.7 868.0,272.0 C871.7,270.3 874.3,266.7 878.0,263.0 C881.7,259.3 885.7,252.8 890.0,250.0 C894.3,247.2 899.0,245.2 904.0,246.0 C909.0,246.8 915.0,252.5 920.0,255.0 C925.0,257.5 929.0,259.2 934.0,261.0 C939.0,262.8 944.3,264.2 950.0,266.0 C955.7,267.8 963.3,271.7 968.0,272.0 C972.7,272.3 975.0,270.0 978.0,268.0 C981.0,266.0 983.3,262.3 986.0,260.0 C988.7,257.7 992.7,255.0 994.0,254.0" fill="none" stroke="#6A99F6" stroke-dasharray="7 9.5"/>
<path d="M840.0,131.0 C842.0,132.3 848.3,136.5 852.0,139.0 C855.7,141.5 860.3,144.8 862.0,146.0" fill="none" stroke="#6A99F6" stroke-dasharray="7 9.5"/>
</g>
<rect x="62" y="101.9" width="405.3" height="390.2" fill="none" stroke="#686868" stroke-width="2.4" stroke-linejoin="round"/>
<rect x="637.2" y="139" width="405" height="316" fill="none" stroke="#686868" stroke-width="2.4" stroke-linejoin="round"/>
<path d="M104.5,492V499.5 M181.8,492V499.5 M259,492V499.5 M336.3,492V499.5 M413.7,492V499.5 M62,174H54.5 M62,368.2H54.5 M693,455V461.5 M767.5,455V461.5 M842,455V461.5 M916,455V461.5 M990.3,455V461.5 M637,207.4H629.5 M637,393.4H629.5" stroke="#1a1a1a" stroke-width="2.3" fill="none"/>
<g font-family="'Liberation Sans', Arial, sans-serif" fill="#111" stroke="#111" stroke-width="0.7">
<text transform="translate(107.5 520.5) scale(1 1.03)" font-size="23" text-anchor="middle">−2</text>
<text transform="translate(182.8 520.5) scale(1 1.03)" font-size="23" text-anchor="middle">0</text>
<text transform="translate(260 520.5) scale(1 1.03)" font-size="23" text-anchor="middle">2</text>
<text transform="translate(337.3 520.5) scale(1 1.03)" font-size="23" text-anchor="middle">4</text>
<text transform="translate(414.7 520.5) scale(1 1.03)" font-size="23" text-anchor="middle">6</text>
<text transform="translate(269.5 543.5) scale(1 1.07)" font-size="23" text-anchor="middle">PC1</text>
<text transform="translate(52 173.5) rotate(-90) scale(1 1.03)" font-size="23" text-anchor="middle">0</text>
<text transform="translate(52 364.5) rotate(-90) scale(1 1.03)" font-size="23" text-anchor="middle">−5</text>
<text transform="translate(26.5 309) rotate(-90) scale(1 1.07)" font-size="23" text-anchor="middle">PC2</text>
<text transform="translate(696 484) scale(1 1.03)" font-size="23" text-anchor="middle">−4</text>
<text transform="translate(770.5 484) scale(1 1.03)" font-size="23" text-anchor="middle">−2</text>
<text transform="translate(843 484) scale(1 1.03)" font-size="23" text-anchor="middle">0</text>
<text transform="translate(917 484) scale(1 1.03)" font-size="23" text-anchor="middle">2</text>
<text transform="translate(991.3 484) scale(1 1.03)" font-size="23" text-anchor="middle">4</text>
<text transform="translate(845 507) scale(1 1.07)" font-size="23" text-anchor="middle">PC1</text>
<text transform="translate(626.5 206.5) rotate(-90) scale(1 1.03)" font-size="23" text-anchor="middle">0</text>
<text transform="translate(626.5 390) rotate(-90) scale(1 1.03)" font-size="23" text-anchor="middle">−5</text>
<text transform="translate(600 308.5) rotate(-90) scale(1 1.07)" font-size="23" text-anchor="middle">PC2</text>
</g>
<g font-family="'Liberation Serif', 'Times New Roman', serif" font-size="45.5" fill="#111" stroke="#111" stroke-width="0.3" letter-spacing="-2">
<text transform="translate(264 34) scale(1.07 1)">a)</text>
<text transform="translate(810.5 35.5) scale(1.07 1)">b)</text>
</g>
<rect x="650" y="89.5" width="2" height="2" fill="#444"/>
</g>
</svg>
</body>
</html>
